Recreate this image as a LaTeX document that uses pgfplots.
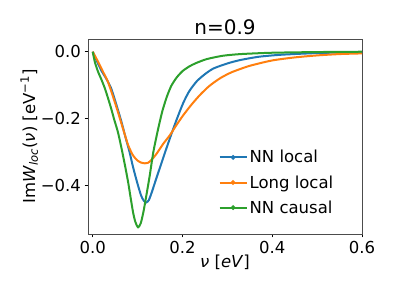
\documentclass[border=0pt]{standalone}
\usepackage{fontspec}
\setmainfont{DejaVu Sans}
\usepackage{pgfplots}
\pgfplotsset{compat=1.18}
\definecolor{tblue}{HTML}{1F77B4}
\definecolor{torange}{HTML}{FF7F0E}
\definecolor{tgreen}{HTML}{2CA02C}
\begin{document}
\begin{tikzpicture}
\path[use as bounding box] (0pt,0pt) rectangle (395pt,296pt);
\begin{axis}[
  at={(88pt,62pt)}, anchor=south west,
  scale only axis, width=274pt, height=195pt,
  xmin=-0.0105, xmax=0.6, ymin=-0.544, ymax=0.038,
  xtick={0,0.2,0.4,0.6}, xticklabels={0.0,0.2,0.4,0.6},
  ytick={-0.4,-0.2,0}, yticklabels={−0.4,−0.2,0.0},
  tick align=outside, tick pos=left,
  major tick length=3.5pt,
  every tick/.style={black, line width=0.6pt},
  axis line style={line width=0.6pt, black!70},
  tick label style={font=\fontsize{16.5}{18}\selectfont},
  label style={font=\fontsize{16.5}{18}\selectfont},
  title style={font=\fontsize{20}{22}\selectfont, yshift=-5pt},
  title={n=0.9},
  xlabel={\textit{ν} [\textit{eV}]},
  ylabel={Im\textit{W}\textsubscript{\textit{loc}}(\textit{ν}) [eV\textsuperscript{−1}]},
  xlabel style={yshift=5pt},
  ylabel style={yshift=-4pt},
  legend style={draw=none, fill=none, at={(0.465,0.45)}, anchor=north west,
    font=\fontsize{16.5}{18}\selectfont, row sep=7pt,
    nodes={inner sep=2pt}},
  legend cell align=left,
  legend image code/.code={\draw[#1,line width=2pt] (0pt,0pt) -- (27pt,0pt); \fill[#1] (13.5pt,0pt) circle (1.2pt);},
]
\addplot[tblue, line width=2pt, smooth, tension=0.4] coordinates {
(0,0) (0.01,-0.03) (0.02,-0.058) (0.03,-0.08) (0.041,-0.109) (0.052,-0.155)
(0.064,-0.209) (0.073,-0.255) (0.082,-0.299) (0.09,-0.345) (0.1,-0.395) (0.108,-0.43)
(0.114,-0.445) (0.119,-0.45) (0.125,-0.443) (0.132,-0.418) (0.14,-0.385) (0.15,-0.345)
(0.16,-0.305) (0.17,-0.266) (0.18,-0.228) (0.19,-0.192) (0.202,-0.152) (0.215,-0.118)
(0.232,-0.088) (0.25,-0.067) (0.269,-0.05) (0.3,-0.035) (0.328,-0.025) (0.37,-0.015)
(0.42,-0.009) (0.5,-0.004) (0.6,-0.001)};
\addlegendentry{NN local}
\addplot[torange, line width=2pt, smooth, tension=0.4] coordinates {
(0,0) (0.012,-0.03) (0.023,-0.06) (0.034,-0.09) (0.045,-0.133) (0.056,-0.179)
(0.068,-0.232) (0.079,-0.279) (0.09,-0.31) (0.1,-0.325) (0.108,-0.331) (0.116,-0.333)
(0.124,-0.331) (0.133,-0.32) (0.143,-0.303) (0.157,-0.275) (0.172,-0.249) (0.187,-0.218)
(0.202,-0.189) (0.22,-0.158) (0.239,-0.129) (0.26,-0.102) (0.284,-0.079) (0.31,-0.061)
(0.35,-0.042) (0.4,-0.026) (0.45,-0.017) (0.5,-0.011) (0.55,-0.007) (0.6,-0.005)};
\addlegendentry{Long local}
\addplot[tgreen, line width=2pt, smooth, tension=0.4] coordinates {
(0,0) (0.005,-0.032) (0.012,-0.06) (0.02,-0.085) (0.027,-0.109) (0.034,-0.138)
(0.041,-0.169) (0.048,-0.203) (0.056,-0.239) (0.064,-0.287) (0.072,-0.34) (0.079,-0.39)
(0.085,-0.44) (0.09,-0.48) (0.095,-0.508) (0.101,-0.524) (0.107,-0.512) (0.113,-0.478)
(0.119,-0.433) (0.127,-0.37) (0.135,-0.3) (0.145,-0.235) (0.155,-0.178) (0.165,-0.135)
(0.175,-0.102) (0.187,-0.077) (0.2,-0.058) (0.215,-0.044) (0.23,-0.034) (0.254,-0.022)
(0.29,-0.012) (0.33,-0.007) (0.4,-0.003) (0.5,-0.001) (0.6,0)};
\addlegendentry{NN causal}
\end{axis}
\end{tikzpicture}
\end{document}
